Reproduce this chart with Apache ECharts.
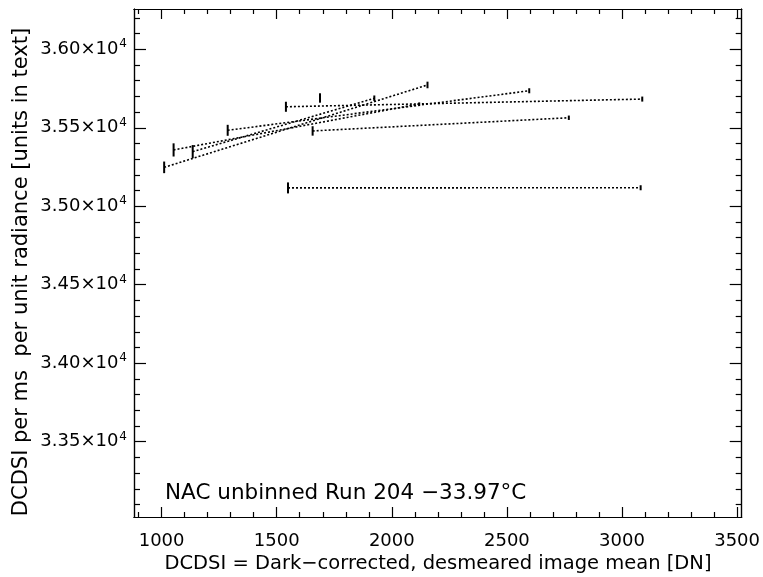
<!DOCTYPE html>
<html>
<head>
<meta charset="utf-8">
<script src="https://cdn.jsdelivr.net/npm/echarts@6/dist/echarts.min.js"></script>
<style>
  html, body { margin: 0; padding: 0; background: #ffffff; }
  #chart { width: 763px; height: 577px; }
</style>
</head>
<body>
<div id="chart"></div>
<script>
// Axis ranges and tick positions
const xRange = [880, 3520];
const yRange = [33020, 36257];
const xMajorTicks = [1000, 1500, 2000, 2500, 3000, 3500];
const xMinorTicks = [900, 1100, 1200, 1300, 1400, 1600, 1700, 1800, 1900, 2100, 2200, 2300, 2400,
                     2600, 2700, 2800, 2900, 3100, 3200, 3300, 3400];
const yMajorTicks = [33500, 34000, 34500, 35000, 35500, 36000];
const yMinorTicks = [33100, 33200, 33300, 33400, 33600, 33700, 33800, 33900, 34100, 34200, 34300, 34400,
                     34600, 34700, 34800, 34900, 35100, 35200, 35300, 35400, 35600, 35700, 35800, 35900,
                     36100, 36200];

// Paired measurements: short-exposure point (low DN) and long-exposure point (high DN)
const lowDN    = [1011, 1052, 1135, 1287, 1540, 1656, 1549, 1688];
const lowRate  = [35248, 35359, 35348, 35484, 35634, 35480, 35117, 35690];
const lowErr   = [37, 42, 42, 35, 32, 30, 35, 30];
const highDN   = [2155, 2119, 1924, 2597, 3088, 2769, 3081, null];
const highRate = [35773, 35652, 35688, 35736, 35683, 35564, 35118, null];
const highErr  = [21, 10, 18, 16, 16, 14, 16, null];

const annotation = 'NAC unbinned Run 204 \u221233.97\u00B0C';
const xTitle = 'DCDSI = Dark\u2212corrected, desmeared image mean [DN]';
const yTitle = 'DCDSI per ms  per unit radiance [units in text]';

const FONT = 'DejaVu Sans';
const INK = '#000000';

function yLabel(v) {
  return (v / 10000).toFixed(2) + '\u00D710{s|4}';
}

// One dotted segment per pair
const pairSeries = [];
for (let i = 0; i < lowDN.length; i++) {
  if (highDN[i] == null) continue;
  pairSeries.push({
    type: 'line',
    xAxisIndex: 0, yAxisIndex: 0,
    data: [[lowDN[i], lowRate[i]], [highDN[i], highRate[i]]],
    symbol: 'none',
    silent: true,
    animation: false,
    lineStyle: { color: INK, width: 1.6, type: [2, 2] },
    z: 3
  });
}

// Error bars for all points
const barData = [];
for (let i = 0; i < lowDN.length; i++) {
  barData.push([lowDN[i], lowRate[i] - lowErr[i], lowRate[i] + lowErr[i]]);
  if (highDN[i] != null) {
    barData.push([highDN[i], highRate[i] - highErr[i], highRate[i] + highErr[i]]);
  }
}

const errorSeries = {
  type: 'custom',
  xAxisIndex: 0, yAxisIndex: 0,
  data: barData,
  silent: true,
  animation: false,
  z: 4,
  renderItem: function (params, api) {
    const p0 = api.coord([api.value(0), api.value(1)]);
    const p1 = api.coord([api.value(0), api.value(2)]);
    return {
      type: 'line',
      shape: { x1: p0[0], y1: p0[1], x2: p1[0], y2: p1[1] },
      style: { stroke: INK, lineWidth: 2 }
    };
  }
};

function xAxisDef(position, ticks, len, labels) {
  return {
    type: 'value', position: position, min: xRange[0], max: xRange[1],
    axisLine: { show: true, onZero: false, lineStyle: { color: INK, width: 1.2 } },
    axisTick: { show: true, inside: true, length: len, customValues: ticks,
                lineStyle: { color: INK, width: 1.2 } },
    axisLabel: labels ? { show: true, customValues: xMajorTicks, color: INK,
                          fontFamily: FONT, fontSize: 18, margin: 15,
                          formatter: function (v) { return String(v); } } : { show: false },
    splitLine: { show: false }
  };
}

function yAxisDef(position, ticks, len, labels) {
  return {
    type: 'value', position: position, min: yRange[0], max: yRange[1],
    axisLine: { show: true, onZero: false, lineStyle: { color: INK, width: 1.2 } },
    axisTick: { show: true, inside: true, length: len, customValues: ticks,
                lineStyle: { color: INK, width: 1.2 } },
    axisLabel: labels ? {
      show: true, customValues: yMajorTicks, color: INK, margin: 7,
      fontFamily: FONT, fontSize: 18,
      formatter: yLabel,
      rich: { s: { fontFamily: FONT, fontSize: 12, verticalAlign: 'top', padding: [0, 0, 10, 1], color: INK } }
    } : { show: false },
    splitLine: { show: false }
  };
}

const chart = echarts.init(document.getElementById('chart'), null, { renderer: 'canvas' });
chart.setOption({
  backgroundColor: '#ffffff',
  animation: false,
  grid: { left: 134, right: 21, top: 9, bottom: 60, containLabel: false },
  xAxis: [
    xAxisDef('bottom', xMajorTicks, 10, true),
    xAxisDef('bottom', xMinorTicks, 5, false),
    xAxisDef('top', xMajorTicks, 10, false),
    xAxisDef('top', xMinorTicks, 5, false)
  ],
  yAxis: [
    yAxisDef('left', yMajorTicks, 12, true),
    yAxisDef('left', yMinorTicks, 6, false),
    yAxisDef('right', yMajorTicks, 12, false),
    yAxisDef('right', yMinorTicks, 6, false)
  ],
  series: pairSeries.concat([errorSeries]),
  graphic: [
    {
      type: 'text', x: 165, y: 493,
      style: { text: annotation, font: '21.5px "DejaVu Sans"', fill: INK, verticalAlign: 'middle' }
    },
    {
      type: 'text', x: 438, y: 564,
      style: { text: xTitle, font: '19.5px "DejaVu Sans"', fill: INK,
               align: 'center', verticalAlign: 'middle' }
    },
    {
      type: 'text', x: 22, y: 272, rotation: Math.PI / 2,
      style: { text: yTitle, font: '21px "DejaVu Sans"', fill: INK,
               align: 'center', verticalAlign: 'middle' }
    }
  ]
});
</script>
</body>
</html>
